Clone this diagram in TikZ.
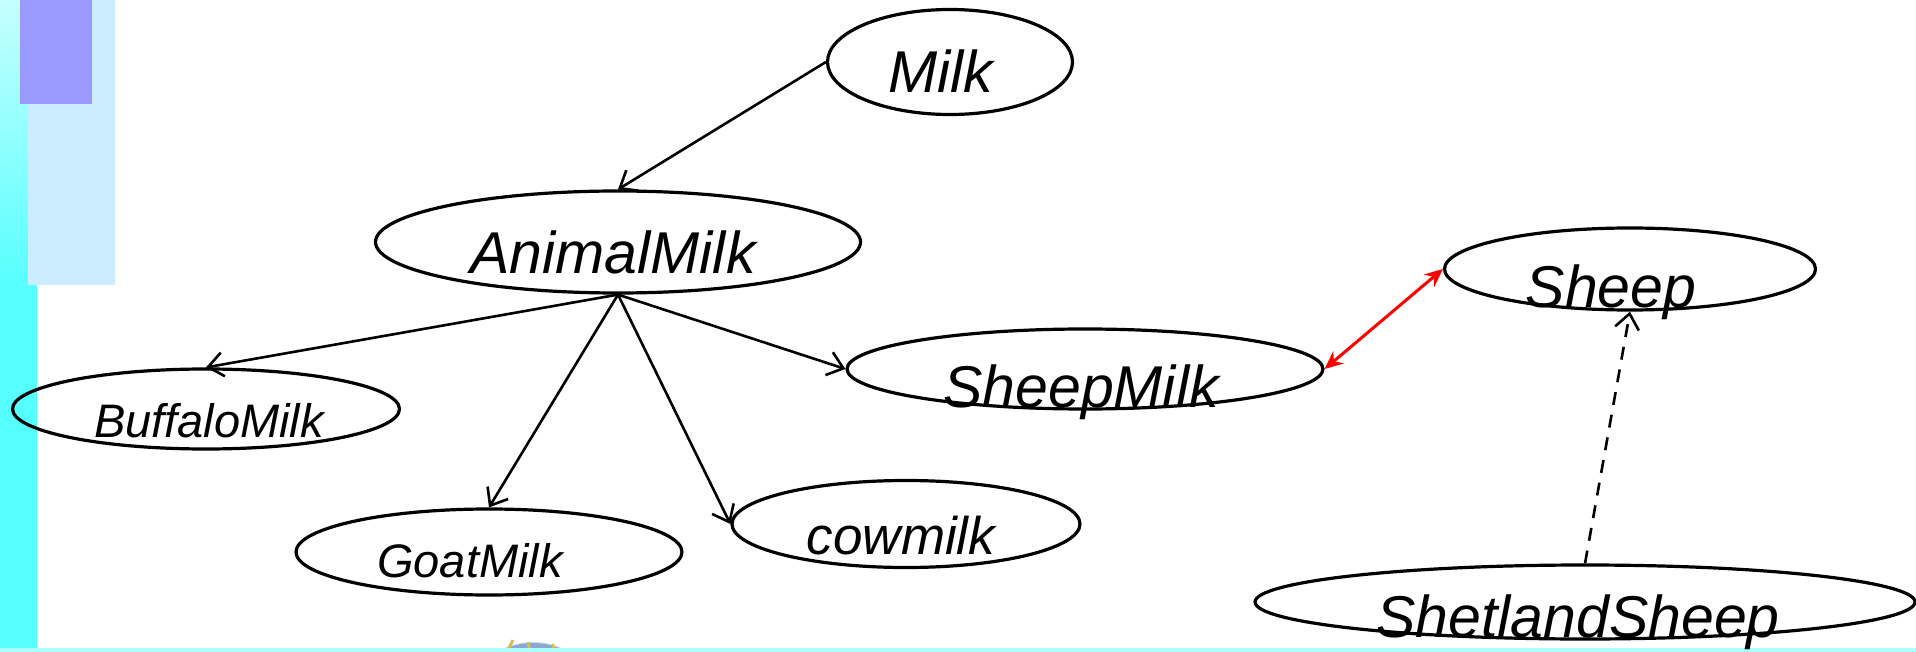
\documentclass[tikz,border=0pt]{standalone}
\usepackage{fontspec}
\setmainfont{Liberation Sans}
\definecolor{stripcyan}{HTML}{55FFFF}
\definecolor{stripfade}{HTML}{C6FFFF}
\definecolor{panelblue}{HTML}{CCECFF}
\definecolor{panelviolet}{HTML}{9999FF}
\definecolor{globeblue}{HTML}{8AA8D0}
\definecolor{globegold}{HTML}{D8C050}
\usetikzlibrary{shapes.geometric,arrows.meta}
\tikzset{
	concept/.style={
		ellipse,
		draw=black,
		line width=1.6pt,
		inner sep=0pt
	},
	bigtext/.style={
		font=\fontsize{29.5}{32}\selectfont\itshape,
		inner sep=0pt,
		anchor=base
	},
	midtext/.style={
		font=\fontsize{26.5}{29}\selectfont\itshape,
		inner sep=0pt,
		anchor=base
	},
	smalltext/.style={
		font=\fontsize{23.5}{26}\selectfont\itshape,
		inner sep=0pt,
		anchor=base
	},
	isa/.style={
		draw=black,
		line width=1.3pt,
		-{Straight Barb[length=7.5pt,width=12pt]}
	},
	sameas/.style={
		draw=red,
		line width=1.5pt,
		{Stealth[length=9pt,width=8pt]}-{Stealth[length=9pt,width=8pt]}
	},
	instof/.style={
		draw=black,
		line width=1.3pt,
		dash pattern=on 6.5pt off 5pt,
		-{Straight Barb[length=7.5pt,width=12pt]}
	},
}

\begin{document}
\begin{tikzpicture}[x=0.5pt,y=-0.5pt]
	\useasboundingbox (0,0) rectangle (1916,652);
	% slide decoration
	\shade[top color=stripfade,bottom color=stripcyan] (0,0) rectangle (37,290);
	\fill[stripcyan] (0,290) rectangle (37,652);
	\fill[panelblue] (28,0) rectangle (115,285);
	\fill[panelviolet] (20,0) rectangle (92,104);
	\begin{scope}
		\clip (0,0) rectangle (1916,652);
		\fill[globeblue!45] (533,712) circle[radius=35pt];
		\draw[globeblue,line width=3pt] (533,712) circle[radius=33pt];
		\draw[globegold,line width=1.5pt] (508,650) -- (513,640) (530,652) -- (528,642) (556,652) -- (552,644);
	\end{scope}
	\fill[stripcyan!50] (0,648) rectangle (1916,652);

	% concepts
	\node[concept,minimum width=122.5pt,minimum height=52.5pt] (milk) at (950,62) {};
	\node[concept,minimum width=242.5pt,minimum height=51pt] (animal) at (618,242) {};
	\node[concept,minimum width=193.5pt,minimum height=40pt] (buffalo) at (206,409) {};
	\node[concept,minimum width=193pt,minimum height=43pt] (goat) at (489,552) {};
	\node[concept,minimum width=174pt,minimum height=43.5pt] (cow) at (906,524) {};
	\node[concept,minimum width=238pt,minimum height=40pt] (sheepmilk) at (1085,369) {};
	\node[concept,minimum width=185.5pt,minimum height=41pt] (sheep) at (1630,269) {};
	\node[concept,minimum width=330pt,minimum height=37pt] (shetland) at (1585,602) {};

	% labels
	\node[bigtext] (milk-t) at (941,93) {Milk};
	\node[bigtext] (animal-t) at (613,273) {AnimalMilk};
	\node[smalltext] (buffalo-t) at (209,437) {BuffaloMilk};
	\node[smalltext] (goat-t) at (470,577) {GoatMilk};
	\node[midtext] (cow-t) at (901,554) {cowmilk};
	\node[bigtext] (sheepmilk-t) at (1081,407) {SheepMilk};
	\node[bigtext] (sheep-t) at (1611,307) {Sheep};
	\node[bigtext] (shetland-t) at (1578,637) {ShetlandSheep};

	\path
	(milk.west) edge[isa] (animal.north)
	(animal.south) edge[isa] (buffalo.north)
	(animal.south) edge[isa] (goat.north)
	(animal.south) edge[isa] (cow.west)
	(animal.south) edge[isa] (sheepmilk.west)
	(sheepmilk.east) edge[sameas] (sheep.west)
	(shetland.north) edge[instof] (sheep.south)
	;
\end{tikzpicture}
\end{document}
